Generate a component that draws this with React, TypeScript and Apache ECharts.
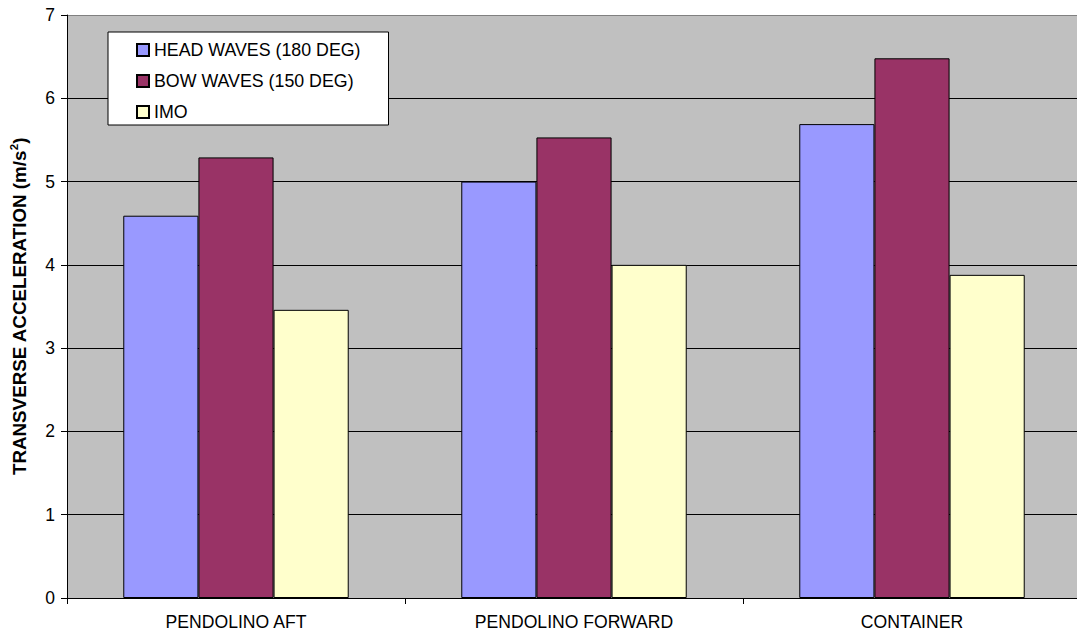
import React, { useEffect, useRef } from "react";
import * as echarts from "echarts";

const categories = ["PENDOLINO AFT", "PENDOLINO FORWARD", "CONTAINER"];
const headWaves = [4.59, 5.0, 5.69];
const bowWaves = [5.29, 5.53, 6.48];
const imo = [3.46, 4.0, 3.88];
const seriesNames = ["HEAD WAVES (180 DEG)", "BOW WAVES (150 DEG)", "IMO"];
const seriesColors = ["#9999FF", "#993366", "#FFFFCC"];

const FONT = "'Liberation Sans', Arial, sans-serif";

export default function App() {
  const ref = useRef<HTMLDivElement>(null);
  useEffect(() => {
    if (!ref.current) return;
    const chart = echarts.init(ref.current, null, { renderer: "svg" });
    const splitColors = ["#000", "#000", "#000", "#000", "#000", "#000", "#000", "#808080"];
    const data = [headWaves, bowWaves, imo];
    chart.setOption({
      animation: false,
      textStyle: { fontFamily: FONT },
      grid: {
        left: 64,
        right: 19,
        top: 15,
        bottom: 37,
        show: true,
        backgroundColor: "#C0C0C0",
        borderWidth: 0,
      },
      legend: {
        orient: "vertical",
        left: 108,
        top: 32,
        backgroundColor: "#ffffff",
        borderColor: "#000000",
        borderWidth: 1,
        borderRadius: 0,
        padding: [9, 28, 4, 28],
        itemWidth: 12,
        itemHeight: 12,
        itemGap: 13,
        icon: "rect",
        textStyle: { fontSize: 17.8, color: "#000", fontFamily: FONT },
        data: seriesNames,
      },
      xAxis: {
        type: "category",
        data: categories,
        axisLine: { show: true, lineStyle: { color: "#000", width: 1 } },
        axisTick: { show: true, length: 6, alignWithLabel: false, lineStyle: { color: "#000" } },
        axisLabel: { fontSize: 17.6, color: "#000", margin: 15, fontFamily: FONT },
        splitLine: { show: false },
      },
      yAxis: {
        type: "value",
        min: 0,
        max: 7,
        interval: 1,
        name: "TRANSVERSE ACCELERATION (m/s{sup|2})",
        nameLocation: "middle",
        nameRotate: 90,
        nameGap: 37,
        nameTextStyle: {
          fontSize: 18.8,
          fontWeight: "bold",
          color: "#000",
          fontFamily: FONT,
          lineHeight: 22,
          rich: {
            sup: { fontSize: 11.5, fontWeight: "bold", color: "#000", verticalAlign: "top", lineHeight: 22, fontFamily: FONT },
          },
        },
        axisLine: { show: true, lineStyle: { color: "#000", width: 1 } },
        axisTick: { show: true, length: 6, lineStyle: { color: "#000" } },
        axisLabel: { fontSize: 17.5, color: "#000", margin: 12, fontFamily: FONT },
        splitLine: { show: true, lineStyle: { color: splitColors, width: 1 } },
      },
      series: seriesNames.map((name, i) => ({
        name,
        type: "bar",
        data: data[i],
        barGap: "0%",
        barCategoryGap: "33.3%",
        itemStyle: { color: seriesColors[i], borderColor: "#000", borderWidth: 1 },
      })),
    });
    return () => chart.dispose();
  }, []);
  return (
    <div
      style={{
        position: "fixed",
        left: 0,
        top: 0,
        width: 1077,
        height: 635,
        overflow: "hidden",
        background: "#fff",
      }}
    >
      <div ref={ref} style={{ width: 1100, height: 635 }} />
    </div>
  );
}
